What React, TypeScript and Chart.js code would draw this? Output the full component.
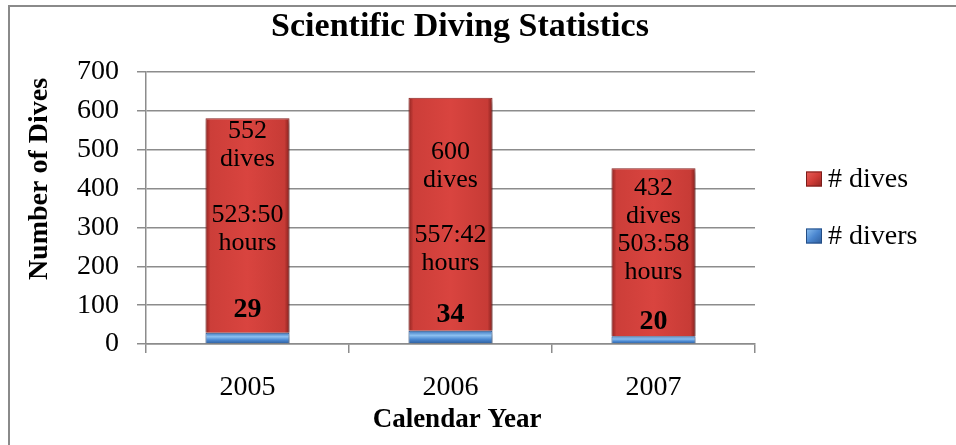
import { useEffect, useRef } from 'react';
import { Chart, registerables } from 'chart.js';

Chart.register(...registerables);

// ---- data ----
const years = ['2005', '2006', '2007'];
const divers = [29, 34, 20];
const dives = [552, 600, 432];
const hours = ['523:50', '557:42', '503:58'];
const yMin = 0;
const yMax = 700;
const yStep = 100;

const chartTitle = 'Scientific Diving Statistics';
const yAxisTitle = 'Number of Dives';
const xAxisTitle = 'Calendar Year';
const diveUnit = 'dives';
const hourUnit = 'hours';

// value-space anchors of the in-bar annotations
const diveLabelAt = [512, 458, 366];
const hoursLabelAt = [296, 244, 221];
const countLabelAt = [88, 75, 57];

const FONT = '"Liberation Serif", "Times New Roman", serif';
const BAR_PCT = 0.414;
const GRID = '#8c8c8c';

function barSpan(chart: any, i: number) {
  const xs = chart.scales.x;
  const cx = xs.getPixelForValue(i);
  const w = (xs.width / years.length) * BAR_PCT;
  return { cx, w };
}

function redFill(c: any) {
  const chart = c.chart;
  if (c.dataIndex === undefined || !chart.scales || !chart.scales.x || !chart.chartArea) return '#d13c37';
  const { cx, w } = barSpan(chart, c.dataIndex);
  const g = chart.ctx.createLinearGradient(cx - w / 2, 0, cx + w / 2, 0);
  g.addColorStop(0, '#8f2421');
  g.addColorStop(0.06, '#cc3e39');
  g.addColorStop(0.5, '#d9443f');
  g.addColorStop(0.94, '#c73b36');
  g.addColorStop(1, '#86211e');
  return g;
}

function blueFill(c: any) {
  const chart = c.chart;
  if (c.dataIndex === undefined || !chart.scales || !chart.scales.y || !chart.chartArea) return '#4a86cf';
  const ys = chart.scales.y;
  const y0 = ys.getPixelForValue(0);
  const y1 = ys.getPixelForValue(divers[c.dataIndex]);
  const g = chart.ctx.createLinearGradient(0, y0, 0, y1);
  g.addColorStop(0, '#2c5a97');
  g.addColorStop(0.35, '#4a88d2');
  g.addColorStop(0.65, '#8cc0f0');
  g.addColorStop(1, '#3b74bd');
  return g;
}

const framePlugin = {
  id: 'frame',
  beforeDraw(chart: any) {
    const { ctx, width, height } = chart;
    ctx.save();
    ctx.strokeStyle = '#8a8a8a';
    ctx.lineWidth = 2;
    ctx.beginPath();
    ctx.moveTo(9, height);
    ctx.lineTo(9, 6);
    ctx.lineTo(width, 6);
    ctx.stroke();
    ctx.restore();
  },
};

const shadowPlugin = {
  id: 'barShadow',
  beforeDatasetsDraw(chart: any) {
    const ctx = chart.ctx;
    ctx.save();
    ctx.shadowColor = 'rgba(0,0,0,0.35)';
    ctx.shadowBlur = 5;
    ctx.shadowOffsetX = 2;
    ctx.shadowOffsetY = 3;
  },
  afterDatasetsDraw(chart: any) {
    chart.ctx.restore();
  },
};

const textPlugin = {
  id: 'texts',
  afterDraw(chart: any) {
    const { ctx, chartArea } = chart;
    const ys = chart.scales.y;
    ctx.save();
    ctx.fillStyle = '#000';
    ctx.textAlign = 'center';
    ctx.textBaseline = 'middle';

    // in-bar annotations
    const LH = 28;
    years.forEach((_, i) => {
      const { cx } = barSpan(chart, i);
      ctx.font = `26px ${FONT}`;
      const d = ys.getPixelForValue(diveLabelAt[i]);
      ctx.fillText(String(dives[i]), cx, d - LH / 2);
      ctx.fillText(diveUnit, cx, d + LH / 2);
      const h = ys.getPixelForValue(hoursLabelAt[i]);
      ctx.fillText(hours[i], cx, h - LH / 2);
      ctx.fillText(hourUnit, cx, h + LH / 2);
      ctx.font = `bold 28px ${FONT}`;
      ctx.fillText(String(divers[i]), cx, ys.getPixelForValue(countLabelAt[i]));
    });

    // title
    ctx.font = `bold 34px ${FONT}`;
    ctx.fillText(chartTitle, 460, 27);

    // axis titles
    ctx.font = `bold 27px ${FONT}`;
    ctx.fillText(xAxisTitle, 457, 420);
    ctx.font = `bold 28px ${FONT}`;
    ctx.save();
    ctx.translate(40, 179);
    ctx.rotate(-Math.PI / 2);
    ctx.fillText(yAxisTitle, 0, 0);
    ctx.restore();

    // legend (reverse order, like the stacked original)
    const midY = (chartArea.top + chartArea.bottom) / 2;
    const items = chart.data.datasets.map((ds: any, i: number) => ({ ds, i })).reverse();
    const gap = 57;
    items.forEach((it: any, k: number) => {
      const yc = midY + (k - (items.length - 1) / 2) * gap;
      const sx = chartArea.right + 51;
      const s = 16;
      const isRed = it.i === 1;
      const g = ctx.createLinearGradient(sx, yc - s / 2, sx + s, yc + s / 2);
      if (isRed) {
        g.addColorStop(0, '#e8605a');
        g.addColorStop(0.5, '#d03c37');
        g.addColorStop(1, '#8f2421');
      } else {
        g.addColorStop(0, '#8cc0f0');
        g.addColorStop(0.5, '#4a86cf');
        g.addColorStop(1, '#2c5a97');
      }
      ctx.fillStyle = g;
      ctx.fillRect(sx, yc - s / 2, s, s - 1);
      ctx.strokeStyle = isRed ? '#7a1d1b' : '#244d84';
      ctx.lineWidth = 1;
      ctx.strokeRect(sx + 0.5, yc - s / 2 + 0.5, s - 1, s - 2);
      ctx.fillStyle = '#000';
      ctx.textAlign = 'left';
      ctx.font = `28px ${FONT}`;
      ctx.fillText(it.ds.label, sx + 22, yc);
    });
    ctx.restore();
  },
};

export default function App() {
  const ref = useRef<HTMLCanvasElement | null>(null);

  useEffect(() => {
    document.body.style.margin = '0';
    if (!ref.current) return;
    const chart = new Chart(ref.current, {
      type: 'bar',
      data: {
        labels: years,
        datasets: [
          {
            label: '# divers',
            data: divers,
            backgroundColor: blueFill as any,
            borderColor: '#2a528a',
            borderWidth: 1,
            barPercentage: BAR_PCT,
            categoryPercentage: 1,
          },
          {
            label: '# dives',
            data: dives,
            backgroundColor: redFill as any,
            borderColor: '#8a2320',
            borderWidth: 1,
            barPercentage: BAR_PCT,
            categoryPercentage: 1,
          },
        ],
      },
      options: {
        animation: false,
        responsive: true,
        maintainAspectRatio: false,
        layout: { padding: { left: 0, top: 72, right: 201, bottom: 0 } },
        plugins: {
          legend: { display: false },
          title: { display: false },
          tooltip: { enabled: false },
        },
        scales: {
          x: {
            stacked: true,
            afterFit: (s: any) => {
              s.height = 101;
            },
            grid: {
              display: true,
              drawOnChartArea: false,
              drawTicks: true,
              tickLength: 9,
              color: GRID,
              lineWidth: 1.5,
            },
            border: { display: true, color: GRID, width: 1.5 },
            ticks: {
              color: '#000',
              font: { family: FONT, size: 28 },
              padding: 18,
            },
          },
          y: {
            stacked: true,
            min: yMin,
            max: yMax,
            afterFit: (s: any) => {
              s.width = 146;
            },
            grid: {
              color: GRID,
              lineWidth: 1.5,
              tickLength: 9,
              drawTicks: true,
            },
            border: { display: true, color: GRID, width: 1.5 },
            ticks: {
              stepSize: yStep,
              color: '#000',
              font: { family: FONT, size: 28 },
              padding: 18,
            },
          },
        },
      },
      plugins: [framePlugin, shadowPlugin, textPlugin],
    });
    return () => chart.destroy();
  }, []);

  return (
    <div style={{ position: 'relative', width: 956, height: 445 }}>
      <canvas ref={ref} />
    </div>
  );
}
